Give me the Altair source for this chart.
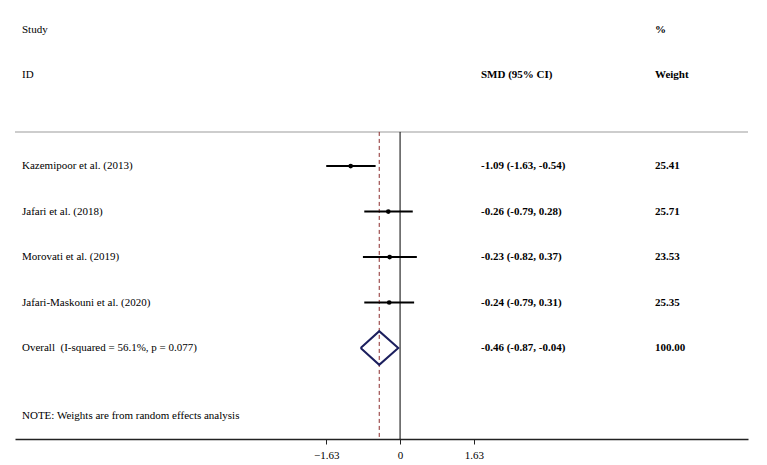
import altair as alt
import pandas as pd

# ---- data ----
studies = ["Kazemipoor et al. (2013)", "Jafari et al. (2018)",
           "Morovati et al. (2019)", "Jafari-Maskouni et al. (2020)"]
smd = [-1.09, -0.26, -0.23, -0.24]
ci_lo = [-1.63, -0.79, -0.82, -0.79]
ci_hi = [-0.54, 0.28, 0.37, 0.31]
weights = [25.41, 25.71, 23.53, 25.35]
overall_est, overall_lo, overall_hi, overall_w = -0.46, -0.87, -0.04, 100.00
i_squared, p_value = 56.1, 0.077
tick_values = [-1.63, 0, 1.63]

FONT = "Liberation Serif"
W, H = 733, 439
XDOM = [-8.5, 7.68]
YDOM = [-3.65, 6.0]
TOP_ROW = -0.75

n = len(studies)
rows = list(range(n))
overall_row = n

studies_df = pd.DataFrame({
    "row": rows, "study": studies, "smd": smd, "lo": ci_lo, "hi": ci_hi,
    "smd_txt": [f"{m:.2f} ({l:.2f}, {h:.2f})" for m, l, h in zip(smd, ci_lo, ci_hi)],
    "w_txt": [f"{w:.2f}" for w in weights],
})

xscale = alt.Scale(domain=XDOM, nice=False, zero=False)
yscale = alt.Scale(domain=YDOM, reverse=True, nice=False, zero=False)
xaxis = alt.Axis(values=tick_values, title=None, grid=False,
                 labelExpr="datum.value == 0 ? '0' : format(datum.value, '.2f')",
                 domainColor="#222", domainWidth=1.5, tickColor="#222", tickSize=5,
                 tickWidth=1, labelFont=FONT, labelFontSize=11, labelColor="black",
                 labelPadding=5)


def X(field):
    return alt.X(field, type="quantitative", scale=xscale, axis=xaxis)


def Y(field):
    return alt.Y(field, type="quantitative", scale=yscale, axis=None)


base = alt.Chart(studies_df)

ci = base.mark_rule(color="black", strokeWidth=2).encode(
    x=X("lo"), x2="hi", y=Y("row"))
pts = base.mark_point(filled=True, shape="circle", size=22, color="black", opacity=1).encode(
    x=X("smd"), y=Y("row"))

refs = pd.DataFrame({"x": [0.0], "y1": [TOP_ROW], "y2": [YDOM[1]]})
zero_line = alt.Chart(refs).mark_rule(color="black", strokeWidth=1).encode(
    x=X("x"), y=Y("y1"), y2="y2")
dash_df = pd.DataFrame({"x": [overall_est], "y1": [TOP_ROW], "y2": [YDOM[1]]})
dash_line = alt.Chart(dash_df).mark_rule(color="#8b2a2a", strokeWidth=1, strokeDash=[4, 3]).encode(
    x=X("x"), y=Y("y1"), y2="y2")

top_df = pd.DataFrame({"x1": [XDOM[0]], "x2": [XDOM[1]], "y": [TOP_ROW]})
top_line = alt.Chart(top_df).mark_rule(color="#bdbdbd", strokeWidth=1.5).encode(
    x=X("x1"), x2="x2", y=Y("y"))

dh = 0.37
diamond_df = pd.DataFrame({
    "x": [overall_lo, overall_est, overall_hi, overall_est, overall_lo],
    "y": [overall_row, overall_row - dh, overall_row, overall_row + dh, overall_row],
    "o": [0, 1, 2, 3, 4],
})
diamond = alt.Chart(diamond_df).mark_line(color="#1c1f5e", strokeWidth=2, strokeJoin="miter").encode(
    x=X("x"), y=Y("y"), order="o:O")

# ---- text ----
COL_STUDY, COL_SMD, COL_W = 7, 466, 640
text_df = pd.DataFrame({
    "row": [-3, -2, -2, -3, -2] + rows + [overall_row, overall_row, overall_row, 5.5],
    "col": ["s", "s", "m", "w", "w"] + ["s"] * n + ["s", "m", "w", "s"],
    "bold": [0, 0, 1, 1, 1] + [0] * n + [0, 1, 1, 0],
    "txt": ["Study", "ID", "SMD (95% CI)", "%", "Weight"] + studies +
           [f"Overall\u00a0 (I-squared = {i_squared:.1f}%, p = {p_value:.3f})",
            f"{overall_est:.2f} ({overall_lo:.2f}, {overall_hi:.2f})",
            f"{overall_w:.2f}",
            "NOTE: Weights are from random effects analysis"],
})
text_df = pd.concat([
    text_df,
    pd.DataFrame({"row": rows * 2, "col": ["m"] * n + ["w"] * n, "bold": [1] * (2 * n),
                  "txt": list(studies_df["smd_txt"]) + list(studies_df["w_txt"])}),
], ignore_index=True)

layers_text = []
for col, xpos in [("s", COL_STUDY), ("m", COL_SMD), ("w", COL_W)]:
    for b in [0, 1]:
        sub = text_df[(text_df["col"] == col) & (text_df["bold"] == b)]
        if len(sub) == 0:
            continue
        layers_text.append(
            alt.Chart(sub).mark_text(align="left", baseline="middle", font=FONT, fontSize=11,
                                     fontWeight="bold" if b else "normal", color="black").encode(
                x=alt.value(xpos), y=Y("row"), text="txt:N"))

chart = alt.layer(top_line, zero_line, dash_line, ci, pts, diamond, *layers_text).properties(
    width=W, height=H, autosize=alt.AutoSizeParams(type="none"),
    padding={"left": 15, "top": 0, "right": 19, "bottom": 26},
    background="white",
).configure_view(stroke=None)

chart.save("out.html", embed_options={"renderer": "svg", "actions": False})
